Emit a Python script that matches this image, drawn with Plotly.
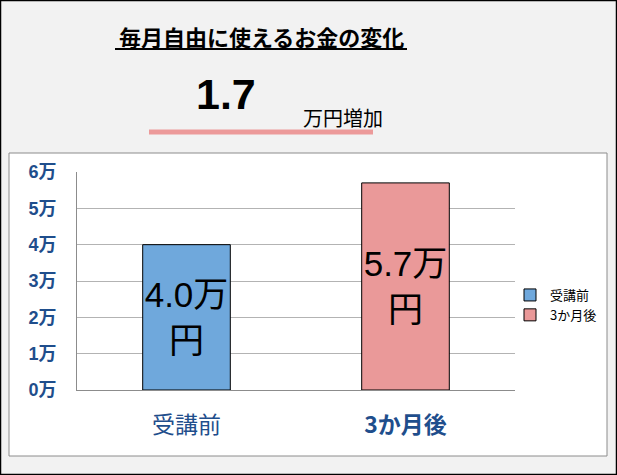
import plotly.graph_objects as go

# data
categories = ["受講前", "3か月後"]
tick_labels = ["受講前", "<b>3か月後</b>"]
values = [4.0, 5.7]
bar_labels = ["4.0万<br>円", "5.7万<br>円"]
bar_colors = ["#6fa8dc", "#ea9999"]
y_ticks = [0, 1, 2, 3, 4, 5, 6]
y_tick_labels = ["0万", "1万", "2万", "3万", "4万", "5万", "6万"]
increase = "1.7"

W, H = 617, 475
L, R, T, B = 77, 102, 172, 85
PW, PH = W - L - R, H - T - B


def px(x):
    return (x - L) / PW


def py(y):
    return (H - B - y) / PH


jp = "Noto Sans CJK JP"
blue = "#1f4e8c"

fig = go.Figure()
for cat, val, lab, col in zip(categories, values, bar_labels, bar_colors):
    fig.add_trace(go.Bar(
        x=[cat], y=[val], name=cat, width=0.4,
        marker=dict(color=col, line=dict(color="black", width=1)),
        text=[lab], textposition="inside", insidetextanchor="middle",
        textangle=0, constraintext="none",
        textfont=dict(family="Liberation Sans, " + jp, size=35, color="black"),
        hoverinfo="skip",
    ))

shapes = [
    # white chart box
    dict(type="rect", xref="paper", yref="paper", layer="below",
         x0=px(9), x1=px(607), y0=py(456), y1=py(153),
         line=dict(color="#8c8c8c", width=1), fillcolor="white"),
    # outer border
    dict(type="rect", xref="paper", yref="paper", layer="below",
         x0=px(0.5), x1=px(616.5), y0=py(474.5), y1=py(0.5),
         line=dict(color="black", width=1.5), fillcolor="rgba(0,0,0,0)"),
    # title underline
    dict(type="line", xref="paper", yref="paper",
         x0=px(115), x1=px(407), y0=py(49), y1=py(49),
         line=dict(color="black", width=2)),
    # pink line under the increase
    dict(type="line", xref="paper", yref="paper",
         x0=px(149), x1=px(373), y0=py(132), y1=py(132),
         line=dict(color="#ec9a9a", width=5)),
]

annotations = [
    dict(text="<b>毎月自由に使えるお金の変化</b>", xref="paper", yref="paper",
         x=px(261), y=py(36), showarrow=False, xanchor="center", yanchor="middle",
         font=dict(family=jp, size=22, color="black")),
    dict(text="<b>" + increase + "</b>", xref="paper", yref="paper",
         x=px(226), y=py(94), showarrow=False, xanchor="center", yanchor="middle",
         font=dict(family="Liberation Sans", size=43, color="black")),
    dict(text="万円増加", xref="paper", yref="paper",
         x=px(343), y=py(117), showarrow=False, xanchor="center", yanchor="middle",
         font=dict(family=jp, size=20, color="black")),
]

fig.update_layout(
    width=W, height=H,
    margin=dict(l=L, r=R, t=T, b=B),
    paper_bgcolor="#f2f2f2", plot_bgcolor="white",
    barmode="overlay",
    shapes=shapes, annotations=annotations,
    showlegend=True,
    legend=dict(x=px(510), y=py(305), xanchor="left", yanchor="middle",
                bgcolor="rgba(0,0,0,0)", font=dict(family=jp, size=13, color="black"),
                itemwidth=30, tracegroupgap=0),
    xaxis=dict(type="category", tickvals=categories, ticktext=tick_labels,
               showline=True, linecolor="#8c8c8c", linewidth=1,
               ticks="", ticklabelstandoff=14, showgrid=False,
               tickfont=dict(family=jp, size=23, color=blue)),
    yaxis=dict(range=[0, 6], tickvals=y_ticks, ticktext=y_tick_labels,
               showline=True, linecolor="#8c8c8c", linewidth=1,
               gridcolor="#b3b3b3", gridwidth=1, zeroline=False,
               ticks="", ticklabelstandoff=16,
               tickfont=dict(family="Liberation Sans, " + jp, size=18, color=blue,
                             weight="bold")),
)

# page margin off so the figure sits at the window's corner
fig.write_html("out.html", config={"displayModeBar": False},
               post_script="document.body.style.margin='0';")
